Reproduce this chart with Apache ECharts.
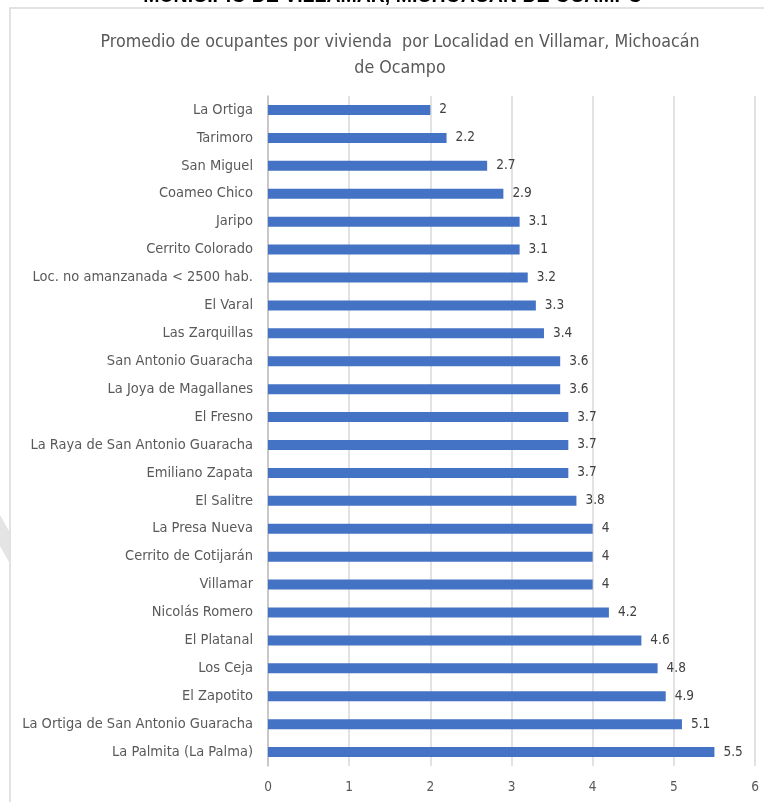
<!DOCTYPE html>
<html>
<head>
    <meta charset="utf-8">
    <title>ECharts</title>
    <script src="https://fastly.jsdelivr.net/npm/echarts@6/dist/echarts.min.js"></script>
    <style>
        html, body { margin: 0; padding: 0; background: #fff; }
    </style>
</head>
<body>
    <div id="main" style="width: 764px;height:802px;"></div>
    <script type="text/javascript">
        var localidades = [
            'La Ortiga', 'Tarimoro', 'San Miguel', 'Coameo Chico', 'Jaripo',
            'Cerrito Colorado', 'Loc. no amanzanada < 2500 hab.', 'El Varal',
            'Las Zarquillas', 'San Antonio Guaracha', 'La Joya de Magallanes',
            'El Fresno', 'La Raya de San Antonio Guaracha', 'Emiliano Zapata',
            'El Salitre', 'La Presa Nueva', 'Cerrito de Cotijarán', 'Villamar',
            'Nicolás Romero', 'El Platanal', 'Los Ceja', 'El Zapotito',
            'La Ortiga de San Antonio Guaracha', 'La Palmita (La Palma)'
        ];
        var ocupantes = [
            2, 2.2, 2.7, 2.9, 3.1, 3.1, 3.2, 3.3, 3.4, 3.6, 3.6, 3.7,
            3.7, 3.7, 3.8, 4, 4, 4, 4.2, 4.6, 4.8, 4.9, 5.1, 5.5
        ];
        var xTicks = [0, 1, 2, 3, 4, 5, 6];

        var fuente = "'Liberation Sans Narrow', 'Arial Narrow', 'DejaVu Sans Condensed', sans-serif";

        var myChart = echarts.init(document.getElementById('main'));

        var option = {
            backgroundColor: '#fff',
            animation: false,
            title: {
                text: 'Promedio de ocupantes por vivienda  por Localidad en Villamar, Michoacán\nde Ocampo',
                left: 395,
                top: 24,
                textAlign: 'center',
                textStyle: {
                    fontFamily: fuente,
                    fontSize: 17.7,
                    fontWeight: 'normal',
                    color: '#595959',
                    lineHeight: 26
                }
            },
            graphic: [
                {
                    // marca de agua (fragmento visible a la izquierda)
                    type: 'polygon',
                    shape: { points: [[0, 515], [9, 531], [9, 562], [0, 546]] },
                    style: { fill: '#e4e4e4' },
                    silent: true
                },
                {
                    // borde del area del grafico
                    type: 'rect',
                    shape: { x: 10, y: 8, width: 800, height: 820 },
                    style: { fill: 'none', stroke: '#d9d9d9', lineWidth: 1.5 },
                    silent: true
                },
                {
                    // titulo del documento, cortado arriba
                    type: 'text',
                    x: 393,
                    y: 7,
                    style: {
                        text: 'MUNICIPIO DE VILLAMAR, MICHOACÁN DE OCAMPO',
                        align: 'center',
                        verticalAlign: 'bottom',
                        font: 'bold 19.5px Arial, "Liberation Sans", sans-serif',
                        fill: '#000'
                    },
                    silent: true
                }
            ],
            grid: {
                left: 268,
                right: 9,
                top: 96,
                bottom: 36,
                containLabel: false,
                outerBoundsMode: 'none'
            },
            xAxis: {
                type: 'value',
                min: xTicks[0],
                max: xTicks[xTicks.length - 1],
                interval: 1,
                axisLine: { show: false },
                axisTick: { show: false },
                splitLine: { lineStyle: { color: '#d9d9d9', width: 1.5 } },
                axisLabel: {
                    color: '#595959',
                    fontFamily: fuente,
                    fontSize: 13.5,
                    margin: 14
                }
            },
            yAxis: {
                type: 'category',
                inverse: true,
                data: localidades,
                axisLine: { lineStyle: { color: '#bfbfbf', width: 1.5 } },
                axisTick: { show: false },
                axisLabel: {
                    color: '#595959',
                    fontFamily: fuente,
                    fontSize: 14.5,
                    margin: 15
                }
            },
            series: [
                {
                    type: 'bar',
                    data: ocupantes,
                    barWidth: 10,
                    itemStyle: { color: '#4472c4' },
                    label: {
                        show: true,
                        position: 'right',
                        distance: 9,
                        color: '#404040',
                        fontFamily: fuente,
                        fontSize: 13.5
                    }
                }
            ]
        };

        myChart.setOption(option);
    </script>
</body>
</html>
